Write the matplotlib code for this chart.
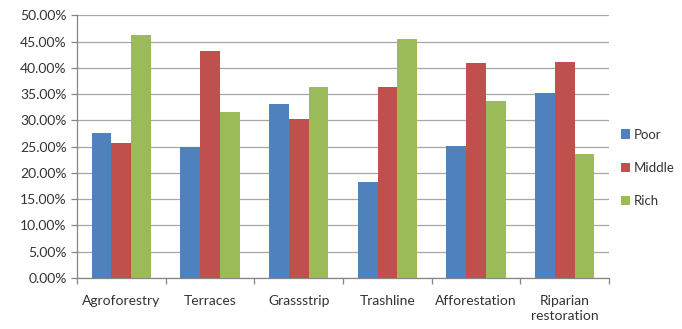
import matplotlib
matplotlib.use("Agg")
import matplotlib.pyplot as plt
import numpy as np
from matplotlib.ticker import FuncFormatter, MultipleLocator

categories = ["Agroforestry", "Terraces", "Grassstrip", "Trashline",
              "Afforestation", "Riparian\nrestoration"]
poor = [27.7, 25.0, 33.2, 18.2, 25.2, 35.2]
middle = [25.8, 43.3, 30.2, 36.3, 41.0, 41.1]
rich = [46.3, 31.7, 36.3, 45.5, 33.7, 23.6]
series_names = ["Poor", "Middle", "Rich"]
colors = ["#4F81BD", "#C0504D", "#9BBB59"]

plt.rcParams["font.family"] = ["Lato", "DejaVu Sans"]

fig = plt.figure(figsize=(6.82, 3.29), dpi=100)
ax = fig.add_axes([0.1129, 0.155, 0.7801, 0.798])

x = np.arange(len(categories))
width = 0.222
for i, (vals, name, col) in enumerate(zip([poor, middle, rich], series_names, colors)):
    ax.bar(x + (i - 1) * width, vals, width, color=col, label=name, zorder=3)

ax.set_xlim(-0.5, len(categories) - 0.5)
ax.set_ylim(0, 50)
ax.yaxis.set_major_locator(MultipleLocator(5))
ax.yaxis.set_major_formatter(FuncFormatter(lambda v, p: f"{v:.2f}%"))
ax.grid(axis="y", color="#A6A6A6", linewidth=0.9, zorder=0)

ax.set_xticks(x)
ax.set_xticklabels(categories, fontsize=10, color="#333333", linespacing=1.3)
ax.tick_params(axis="x", length=0, pad=12)
ax.set_xticks(np.arange(-0.5, len(categories) + 0.5, 1), minor=True)
ax.tick_params(axis="x", which="minor", length=4, color="#868686", width=0.9)
ax.tick_params(axis="y", labelsize=10, labelcolor="#333333", length=4,
               color="#868686", width=0.9)

for s in ["top", "right"]:
    ax.spines[s].set_visible(False)
for s in ["left", "bottom"]:
    ax.spines[s].set_color("#868686")
    ax.spines[s].set_linewidth(0.9)

leg = fig.legend(loc="center left", bbox_to_anchor=(0.897, 0.49), frameon=False,
                 fontsize=9.5, handlelength=0.7, handleheight=0.7,
                 handletextpad=0.25, labelspacing=1.6, borderpad=0.2)
for t in leg.get_texts():
    t.set_color("#333333")

fig.savefig("out.png", dpi=100)
